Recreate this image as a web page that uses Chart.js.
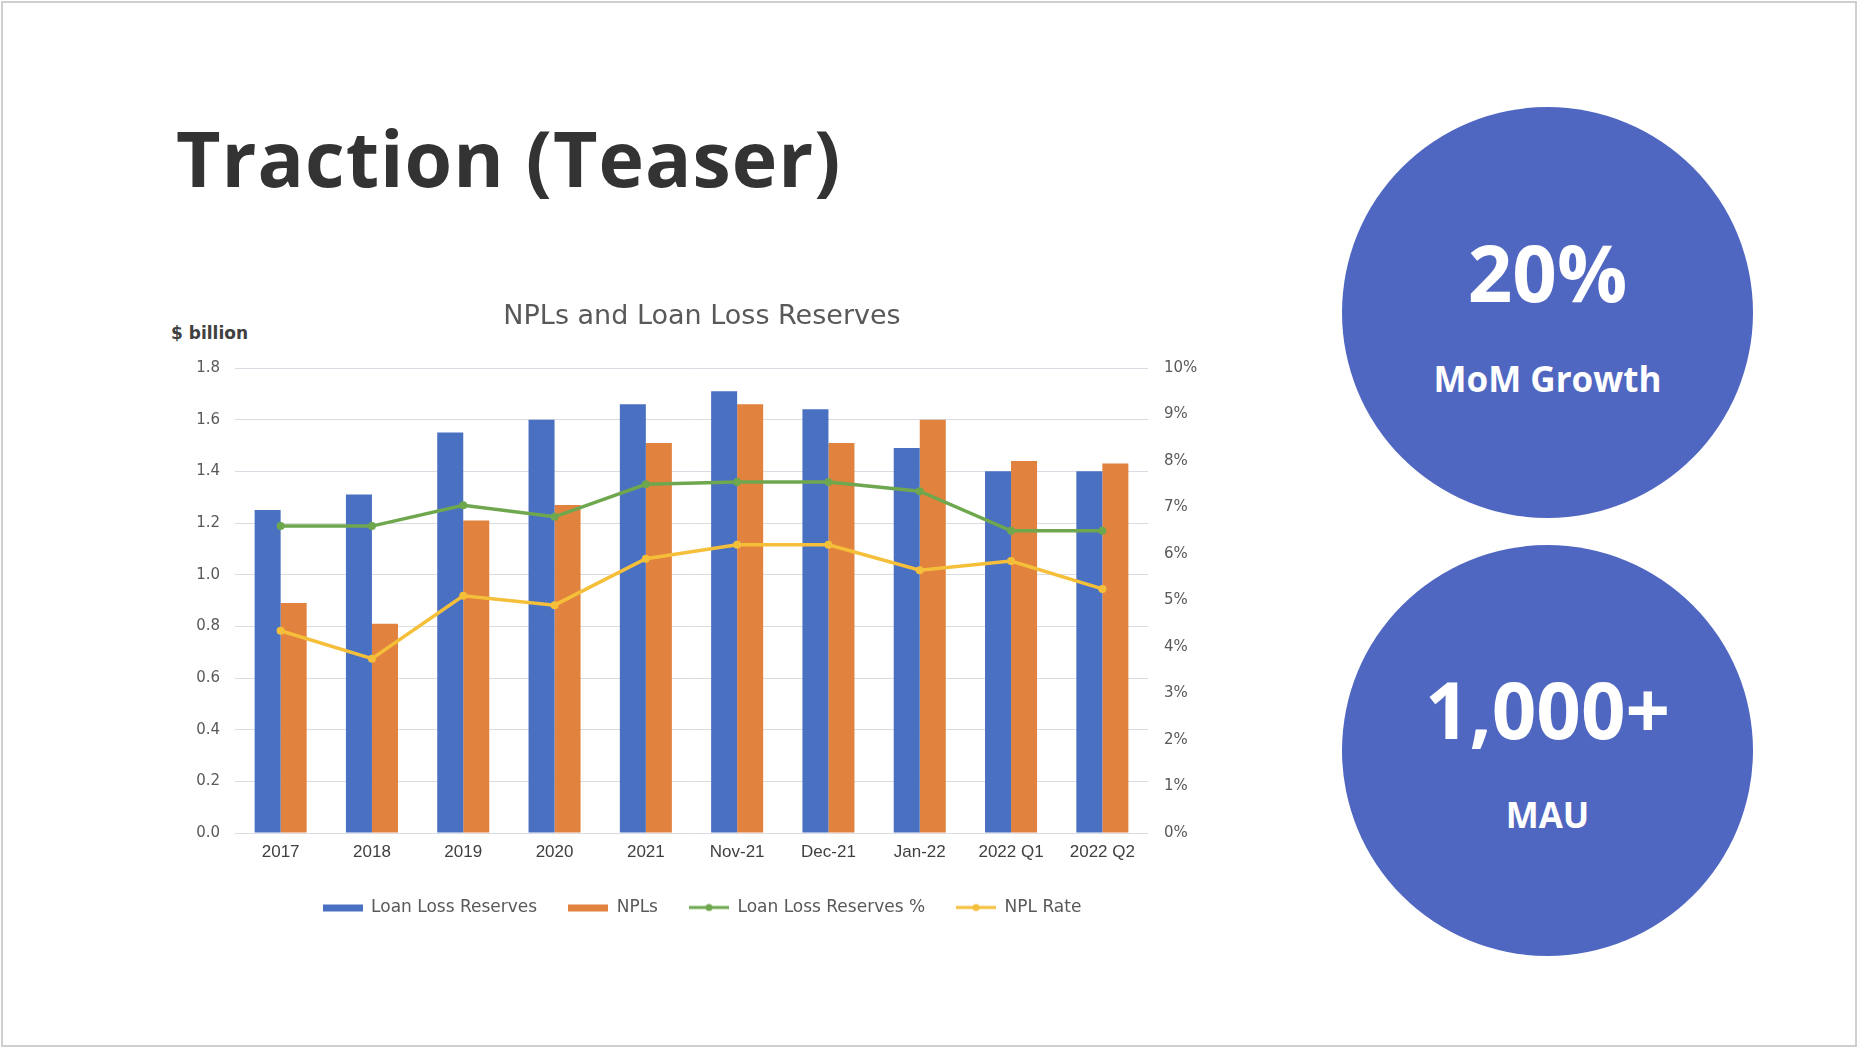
<!DOCTYPE html>
<html>
<head>
<meta charset="utf-8">
<script src="https://cdn.jsdelivr.net/npm/chart.js@4.4.1/dist/chart.umd.min.js"></script>
<style>
  html, body { margin: 0; padding: 0; background: #fff; }
  body { width: 1858px; height: 1048px; position: relative; overflow: hidden; }
  .frame { position: absolute; left: 1px; top: 1px; width: 1852px; height: 1042px; border: 2px solid #cfcfcf; }
  .title { position: absolute; left: 176px; top: 119px; font: 700 77px/1 "Open Sans", sans-serif; color: #333; letter-spacing: 1px; white-space: nowrap; }
  .unit { position: absolute; left: 171px; top: 325px; font: 700 17px/1 "DejaVu Sans", sans-serif; color: #404040; white-space: nowrap; }
  .circle { position: absolute; left: 1342px; width: 411px; height: 411px; border-radius: 50%; background: #5067c1; }
  .big, .small { position: absolute; left: 1342px; width: 411px; text-align: center; color: #fff; font-family: "Open Sans", sans-serif; font-weight: 700; line-height: 1; white-space: nowrap; }
  .big { font-size: 78px; }
  .small { font-size: 35px; }
  #wrap { position: absolute; left: 152px; top: 297px; }
</style>
</head>
<body>
<div class="frame"></div>
<div class="title">Traction (Teaser)</div>

<div class="circle" style="top:107px"></div>
<div class="big" style="top:233px">20%</div>
<div class="small" style="top:361px">MoM Growth</div>

<div class="circle" style="top:545px"></div>
<div class="big" style="top:670px">1,000+</div>
<div class="small" style="top:797px">MAU</div>

<div class="unit">$ billion</div>
<div id="wrap"><canvas id="myChart" width="1100" height="629"></canvas></div>

<script>
"use strict";

// data
const labels = ['2017', '2018', '2019', '2020', '2021', 'Nov-21', 'Dec-21', 'Jan-22', '2022 Q1', '2022 Q2'];
const loanLossReserves = [1.25, 1.31, 1.55, 1.60, 1.66, 1.71, 1.64, 1.49, 1.40, 1.40];
const npls = [0.89, 0.81, 1.21, 1.27, 1.51, 1.66, 1.51, 1.60, 1.44, 1.43];
const reservesPct = [6.6, 6.6, 7.05, 6.8, 7.5, 7.55, 7.55, 7.35, 6.5, 6.5];
const nplRate = [4.35, 3.75, 5.1, 4.9, 5.9, 6.2, 6.2, 5.65, 5.85, 5.25];

const leftTicks = { min: 0, max: 1.8, step: 0.2 };
const rightTicks = { min: 0, max: 10, step: 1 };

const colors = ['#4a70c2', '#e1823e', '#6fa74e', '#f5bf3a'];
const textColor = '#595959';

// legend markers: a flat bar for the columns, a line with a dot for the lines
const makeMarker = (color, kind) => {
  const c = document.createElement('canvas');
  c.width = 40;
  c.height = 10;
  const g = c.getContext('2d');
  g.fillStyle = color;
  g.strokeStyle = color;
  if (kind === 'bar') {
    g.fillRect(0, 2, 40, 7);
  } else {
    g.lineWidth = 3;
    g.beginPath(); g.moveTo(0, 5); g.lineTo(40, 5); g.stroke();
    g.beginPath(); g.arc(20, 5, 3.5, 0, Math.PI * 2); g.fill();
  }
  return c;
};
const markers = [
  makeMarker(colors[0], 'bar'),
  makeMarker(colors[1], 'bar'),
  makeMarker(colors[2], 'line'),
  makeMarker(colors[3], 'line')
];

const lineSet = (label, data, color) => ({
  type: 'line',
  label,
  data,
  yAxisID: 'y2',
  borderColor: color,
  backgroundColor: color,
  borderWidth: 3.5,
  pointRadius: 4,
  pointBorderWidth: 0,
  tension: 0,
  order: 1
});

const ctx = document.getElementById('myChart').getContext('2d');

new Chart(ctx, {
  type: 'bar',
  data: {
    labels,
    datasets: [
      { label: 'Loan Loss Reserves', data: loanLossReserves, backgroundColor: colors[0], yAxisID: 'y', order: 2 },
      { label: 'NPLs', data: npls, backgroundColor: colors[1], yAxisID: 'y', order: 2 },
      lineSet('Loan Loss Reserves %', reservesPct, colors[2]),
      lineSet('NPL Rate', nplRate, colors[3])
    ]
  },
  options: {
    responsive: false,
    animation: false,
    datasets: { bar: { categoryPercentage: 0.57, barPercentage: 1 } },
    layout: { padding: 0 },
    plugins: {
      title: {
        display: true,
        text: 'NPLs and Loan Loss Reserves',
        color: textColor,
        font: { family: 'DejaVu Sans', size: 27, weight: 'normal' },
        padding: { top: 4, bottom: 34.6 }
      },
      legend: {
        position: 'bottom',
        labels: {
          usePointStyle: true,
          pointStyleWidth: 40,
          padding: 31,
          color: textColor,
          font: { family: 'DejaVu Sans', size: 17 },
          generateLabels: (chart) => Chart.defaults.plugins.legend.labels.generateLabels(chart)
            .map(item => ({ ...item, pointStyle: markers[item.datasetIndex] }))
            .sort((a, b) => a.datasetIndex - b.datasetIndex)
        }
      },
      tooltip: { enabled: false }
    },
    scales: {
      x: {
        grid: { display: false },
        border: { display: false },
        ticks: { color: '#404040', padding: 1, font: { family: 'Liberation Sans', size: 17 } },
        afterFit: (s) => { s.height = 35; }
      },
      y: {
        position: 'left',
        min: leftTicks.min,
        max: leftTicks.max,
        grid: { color: '#dadce3', drawTicks: false },
        border: { display: false },
        ticks: {
          stepSize: leftTicks.step,
          padding: 15,
          color: textColor,
          font: { family: 'DejaVu Sans', size: 15 },
          callback: (v) => v.toFixed(1)
        },
        afterFit: (s) => { s.width = 83; }
      },
      y2: {
        position: 'right',
        min: rightTicks.min,
        max: rightTicks.max,
        grid: { display: false, drawTicks: false },
        border: { display: false },
        ticks: {
          stepSize: rightTicks.step,
          padding: 16,
          color: textColor,
          font: { family: 'DejaVu Sans', size: 15 },
          callback: (v) => v + '%'
        },
        afterFit: (s) => { s.width = 104; }
      }
    }
  }
});
</script>
</body>
</html>
